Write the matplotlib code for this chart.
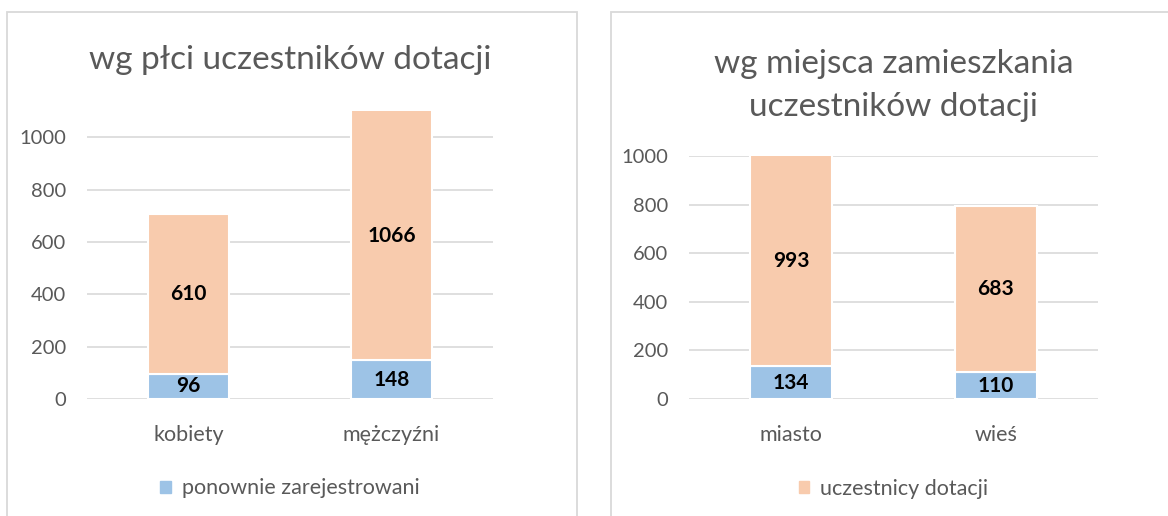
import numpy as np
import matplotlib.pyplot as plt
from matplotlib.patches import Rectangle, Patch

plt.rcParams['font.family'] = ['Lato', 'DejaVu Sans']

# data
sex_labels = ['kobiety', 'mężczyźni']
sex_reregistered = [96, 148]
sex_participants = [610, 1066]

place_labels = ['miasto', 'wieś']
place_reregistered = [134, 110]
place_participants = [993, 683]

yticks = [0, 200, 400, 600, 800, 1000]

BLUE = '#9DC3E6'
ORANGE = '#F8CBAD'
GREY_TEXT = '#595959'
GRID = '#D9D9D9'

W, H = 1168, 516
fig = plt.figure(figsize=(W / 100, H / 100), dpi=100)


def px_axes(x0, y0, x1, y1):
    # pixel box (top-left origin) -> figure axes
    return fig.add_axes([x0 / W, 1 - y1 / H, (x1 - x0) / W, (y1 - y0) / H])


def panel(x0, y0, x1, y1):
    rect = Rectangle((x0 / W, 1 - y1 / H), (x1 - x0) / W, (y1 - y0) / H,
                     transform=fig.transFigure, fill=False,
                     edgecolor=GRID, linewidth=1.3)
    fig.patches.append(rect)


def stacked(ax, labels, bottom_vals, top_vals, ymax):
    x = np.arange(len(labels))
    b1 = ax.bar(x, bottom_vals, width=0.4, color=BLUE,
                edgecolor='white', linewidth=1.5, zorder=2)
    b2 = ax.bar(x, top_vals, width=0.4, bottom=bottom_vals, color=ORANGE,
                edgecolor='white', linewidth=1.5, zorder=2)
    for xi, lo, hi in zip(x, bottom_vals, top_vals):
        ax.text(xi, lo / 2, str(lo), ha='center', va='center',
                fontsize=15, fontweight='bold', color='black', zorder=3)
        mid = lo + min(hi, ymax - lo) / 2
        ax.text(xi, mid, str(hi), ha='center', va='center',
                fontsize=15, fontweight='bold', color='black', zorder=3)
    ax.set_xlim(-0.5, len(labels) - 0.5)
    ax.set_ylim(0, ymax)
    ax.set_xticks(x)
    ax.set_xticklabels(labels)
    ax.set_yticks(yticks)
    ax.yaxis.grid(True, color=GRID, linewidth=1.2, zorder=0)
    ax.set_axisbelow(True)
    for s in ax.spines.values():
        s.set_visible(False)
    ax.tick_params(length=0, labelcolor=GREY_TEXT)
    ax.tick_params(axis='y', pad=15, labelsize=14.5)
    ax.tick_params(axis='x', pad=19, labelsize=15.5)
    return b1, b2


panel(7, 12, 577, 530)
panel(611, 12, 1185, 530)

ax1 = px_axes(87, 111, 493, 399)
b1, b2 = stacked(ax1, sex_labels, sex_reregistered, sex_participants, 1100)
ax1.set_title('wg płci uczestników dotacji', fontsize=24, color=GREY_TEXT, pad=30)
ax1.legend(handles=[Patch(color=BLUE, label='ponownie zarejestrowani')],
           loc='center', bbox_to_anchor=(0.5, -0.31), frameon=False,
           fontsize=15.5, labelcolor=GREY_TEXT, handlelength=0.5,
           handleheight=0.5, handletextpad=0.5)

ax2 = px_axes(689, 156, 1098, 399)
c1, c2 = stacked(ax2, place_labels, place_reregistered, place_participants, 1000)
ax2.set_title('wg miejsca zamieszkania\nuczestników dotacji', fontsize=24,
              color=GREY_TEXT, pad=29, linespacing=1.55)
ax2.legend(handles=[Patch(color=ORANGE, label='uczestnicy dotacji')],
           loc='center', bbox_to_anchor=(0.5, -0.37), frameon=False,
           fontsize=15.5, labelcolor=GREY_TEXT, handlelength=0.5,
           handleheight=0.5, handletextpad=0.5)

fig.savefig('out.png', dpi=100)
